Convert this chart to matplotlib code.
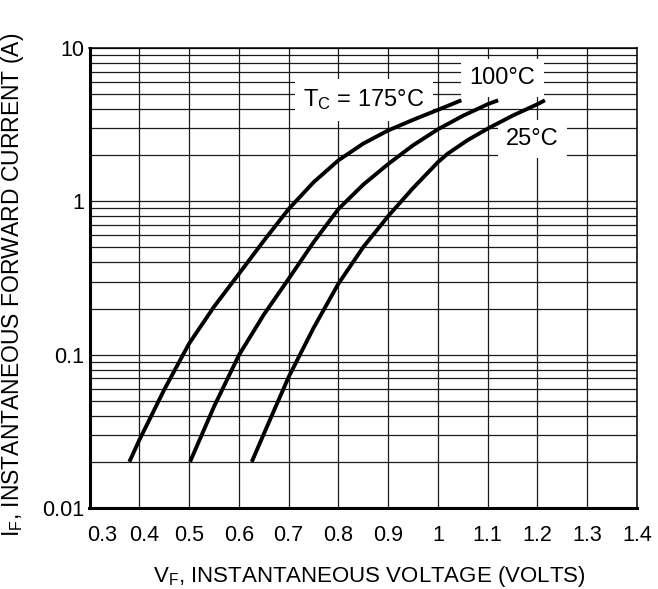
import matplotlib
matplotlib.use("Agg")
import matplotlib.pyplot as plt
from matplotlib.ticker import LogLocator, NullFormatter, FixedLocator, FixedFormatter
from matplotlib.transforms import ScaledTranslation

plt.rcParams['font.family'] = ['Liberation Sans', 'DejaVu Sans']
plt.rcParams['mathtext.fontset'] = 'custom'
plt.rcParams['mathtext.rm'] = 'Liberation Sans'
plt.rcParams['mathtext.default'] = 'regular'

# ---- data ----
v_175 = [0.38, 0.40, 0.45, 0.50, 0.55, 0.60, 0.65, 0.70, 0.75, 0.80, 0.85, 0.90, 0.95, 1.00, 1.047]
i_175 = [0.02, 0.0277, 0.059, 0.118, 0.205, 0.336, 0.552, 0.89, 1.33, 1.85, 2.38, 2.9, 3.40, 3.95, 4.56]

v_100 = [0.502, 0.55, 0.60, 0.65, 0.70, 0.75, 0.80, 0.85, 0.90, 0.95, 1.00, 1.05, 1.10, 1.121]
i_100 = [0.02, 0.0457, 0.099, 0.182, 0.312, 0.54, 0.89, 1.285, 1.75, 2.32, 2.95, 3.61, 4.3, 4.56]

v_25 = [0.626, 0.65, 0.70, 0.75, 0.80, 0.85, 0.90, 0.95, 1.00, 1.02, 1.06, 1.10, 1.15, 1.20, 1.215]
i_25 = [0.02, 0.0303, 0.0714, 0.149, 0.29, 0.503, 0.80, 1.22, 1.8, 2.05, 2.51, 2.98, 3.62, 4.3, 4.56]

x_ticks = [0.3, 0.4, 0.5, 0.6, 0.7, 0.8, 0.9, 1.0, 1.1, 1.2, 1.3, 1.4]
x_tick_labels = ['0.3', '0.4', '0.5', '0.6', '0.7', '0.8', '0.9', '1', '1.1', '1.2', '1.3', '1.4']
y_ticks = [0.01, 0.1, 1, 10]
y_tick_labels = ['0.01', '0.1', '1', '10']

curve_labels = [r'T$_{C}$ = 175°C', '100°C', '25°C']
label_pos = [(0.851, 4.58), (1.130, 6.37), (1.190, 2.55)]

# ---- figure ----
fig = plt.figure(figsize=(6.58, 5.89), dpi=100)
ax = fig.add_axes([89.5 / 658, 81 / 589, 547.5 / 658, 460 / 589])

ax.set_yscale('log')
ax.set_xlim(0.3, 1.4)
ax.set_ylim(0.01, 10)

for v, i in [(v_175, i_175), (v_100, i_100), (v_25, i_25)]:
    ax.plot(v, i, color='black', lw=2.8, solid_capstyle='butt',
            solid_joinstyle='round', zorder=4)

ax.xaxis.set_major_locator(FixedLocator(x_ticks))
ax.xaxis.set_major_formatter(FixedFormatter(x_tick_labels))
ax.yaxis.set_major_locator(FixedLocator(y_ticks))
ax.yaxis.set_major_formatter(FixedFormatter(y_tick_labels))
ax.yaxis.set_minor_locator(LogLocator(base=10, subs=range(2, 10)))
ax.yaxis.set_minor_formatter(NullFormatter())

ax.grid(which='both', axis='y', color='#1a1a1a', lw=0.9, zorder=1)
ax.grid(which='major', axis='x', color='#1a1a1a', lw=0.9, zorder=1)
ax.set_axisbelow(True)

ax.tick_params(axis='both', which='both', length=0, labelsize=15.5)
ax.tick_params(axis='x', pad=12)
ax.tick_params(axis='y', pad=4)

for side in ['left', 'bottom']:
    ax.spines[side].set_linewidth(2.2)
for side in ['top', 'right']:
    ax.spines[side].set_linewidth(1.1)

# first x tick labels are nudged right in the reference
xl = ax.get_xticklabels()
xl[0].set_transform(xl[0].get_transform() + ScaledTranslation(13 / 100, 0, fig.dpi_scale_trans))
xl[1].set_transform(xl[1].get_transform() + ScaledTranslation(5 / 100, 0, fig.dpi_scale_trans))

ax.set_xlabel(r'V$_{F}$, INSTANTANEOUS VOLTAGE (VOLTS)', fontsize=16)
ax.xaxis.set_label_coords(0.511, -0.122)
ax.set_ylabel(r'I$_{F}$, INSTANTANEOUS FORWARD CURRENT (A)', fontsize=16.5)
ax.yaxis.set_label_coords(-0.116, 0.485)

for txt, (px, py) in zip(curve_labels, label_pos):
    ax.text(px, py, txt, fontsize=17, ha='center', va='center', zorder=3,
            bbox=dict(boxstyle='square,pad=0.35', facecolor='white', edgecolor='none'))

fig.savefig('out.png', dpi=100)
